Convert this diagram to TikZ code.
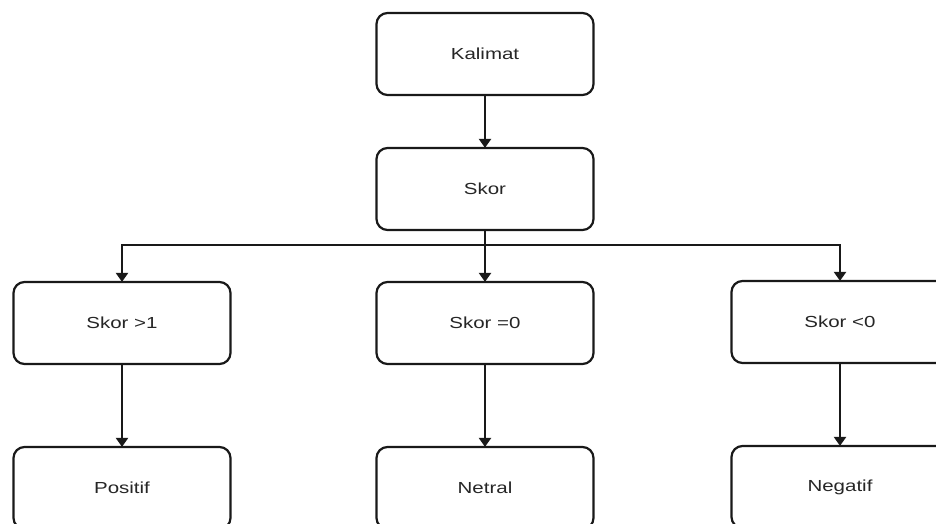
\documentclass[tikz,border=0pt]{standalone}
\usepackage{fontspec}
\setmainfont{Liberation Sans}
\usetikzlibrary{arrows.meta}

\tikzset{
  box/.style={draw=black!90, line width=2.2pt, rounded corners=11pt, fill=white,
    minimum width=217pt, minimum height=82pt, inner sep=0pt,
    font=\fontsize{16}{18}\selectfont, text=black!85},
  link/.style={draw=black!90, line width=2.2pt},
  arr/.style={link, -{Triangle[width=12pt,length=9pt]}, shorten >=-1pt}
}
\newcommand{\lbl}[1]{\scalebox{1.28}[1]{#1}}

\begin{document}
\begin{tikzpicture}[x=1pt, y=-1pt]
  \useasboundingbox (0,0) rectangle (936,524);
  \clip (0,0) rectangle (936,524);

  % top of the chain
  \node[box] (kal) at (485,54) {\lbl{Kalimat}};
  \node[box] (skor) at (485,189) {\lbl{Skor}};

  % score tests
  \node[box] (gt) at (122,323) {\lbl{Skor >1}};
  \node[box] (eq) at (485,323) {\lbl{Skor =0}};
  \node[box] (lt) at (840,322) {\lbl{Skor <0}};

  % outcomes
  \node[box] (pos) at (122,488) {\lbl{Positif}};
  \node[box] (net) at (485,488) {\lbl{Netral}};
  \node[box] (neg) at (840,487) {\lbl{Negatif}};

  % connectors
  \draw[arr] (kal) -- (skor);
  \coordinate (bus) at (485,245);
  \draw[link] (skor.south) -- (bus);
  \draw[arr] (bus) -| (gt.north);
  \draw[arr] (bus) -- (eq.north);
  \draw[arr] (bus) -| (lt.north);

  \draw[arr] (gt) -- (pos);
  \draw[arr] (eq) -- (net);
  \draw[arr] (lt) -- (neg);
\end{tikzpicture}
\end{document}
